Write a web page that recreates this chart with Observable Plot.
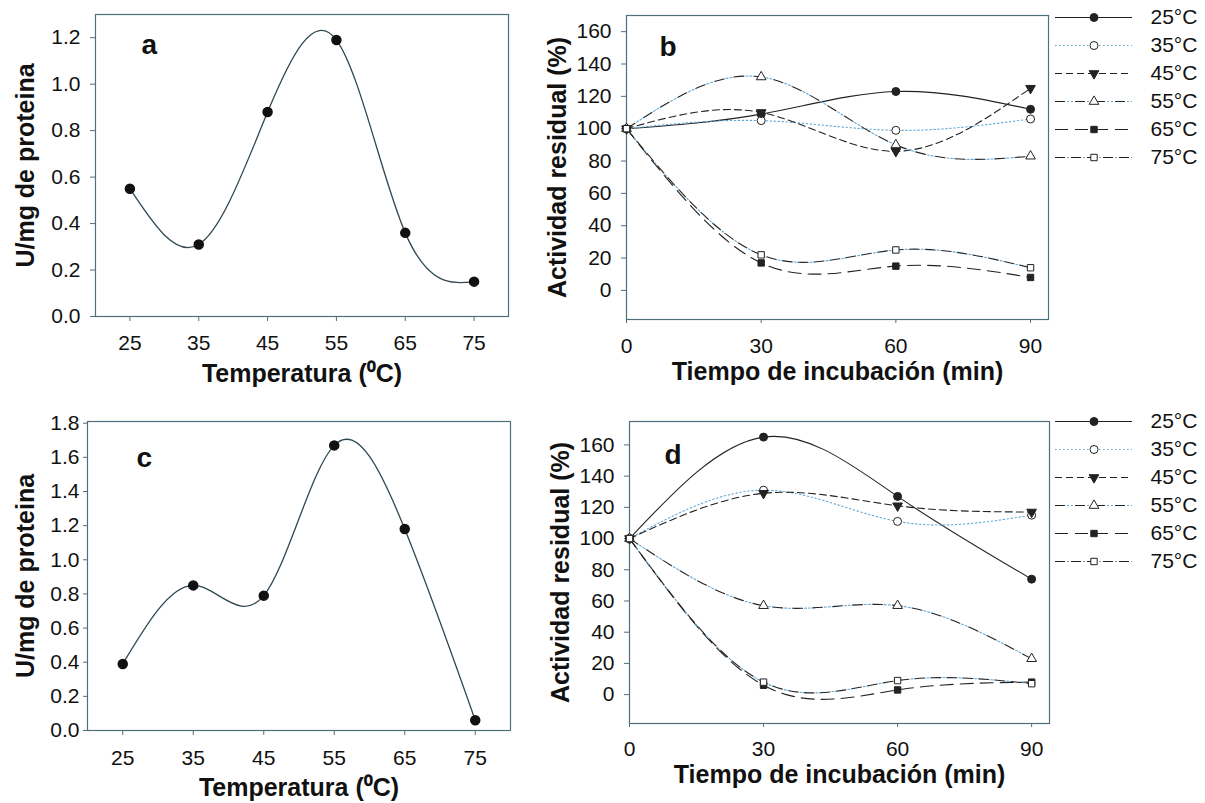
<!DOCTYPE html>
<html>
<head>
<meta charset="utf-8">
<script src="https://cdn.jsdelivr.net/npm/d3@7"></script>
<script src="https://cdn.jsdelivr.net/npm/@observablehq/plot@0.6"></script>
<style>
  html, body { margin: 0; padding: 0; background: #fff; }
  #root { position: relative; width: 1205px; height: 803px; background: #fff; overflow: hidden; }
  .panel { position: absolute; }
</style>
</head>
<body>
<div id="root"></div>
<script>
// ---------- DATA ----------
const temperatures = [25, 35, 45, 55, 65, 75];
const activityA = [0.55, 0.31, 0.88, 1.19, 0.36, 0.15];
const activityC = [0.39, 0.85, 0.79, 1.67, 1.18, 0.06];
const tempTicksY_A = [0, 0.2, 0.4, 0.6, 0.8, 1.0, 1.2];
const tempTicksY_C = [0, 0.2, 0.4, 0.6, 0.8, 1.0, 1.2, 1.4, 1.6, 1.8];

const times = [0, 30, 60, 90];
const seriesLabels = ["25°C", "35°C", "45°C", "55°C", "65°C", "75°C"];
const residualTicks = [0, 20, 40, 60, 80, 100, 120, 140, 160];

// Panel b residual activity (%)
const b25 = [100, 109, 123, 112];
const b35 = [100, 105, 99, 106];
const b45 = [100, 110, 86, 125];
const b55 = [100, 132, 90, 83];
const b65 = [100, 17, 15, 8];
const b75 = [100, 22, 25, 14];

// Panel d residual activity (%)
const d25 = [100, 165, 127, 74];
const d35 = [100, 131, 111, 115];
const d45 = [100, 129, 121, 117];
const d55 = [100, 57, 57, 23];
const d65 = [100, 6, 3, 8];
const d75 = [100, 8, 9, 7];

// ---------- STYLES ----------
const FRAME = "#4f6f7c";
const DARK = "#222";
const BLUE = "#63a9d6";
const FONT = "'Liberation Sans', Arial, Helvetica, sans-serif";
const TICK_FS = 21;
const TITLE_FS = 25;

const seriesStyles = [
  {lines: [{stroke: DARK}], symbol: "circle", fill: DARK, r: 4},
  {lines: [{stroke: BLUE, dash: "1.5,2.5"}], symbol: "circle", fill: "white", r: 4},
  {lines: [{stroke: DARK, dash: "7,4"}], symbol: "triangle", rotate: 180, fill: DARK, r: 3.6},
  {lines: [{stroke: DARK, dash: "10,10"}, {stroke: BLUE, dash: "0,12,2,2,2,2"}], symbol: "triangle", fill: "white", r: 3.6},
  {lines: [{stroke: DARK, dash: "13,7"}], symbol: "square", fill: DARK, r: 3.6},
  {lines: [{stroke: DARK, dash: "10,6"}, {stroke: BLUE, dash: "0,12,2,2"}], symbol: "square", fill: "white", r: 3.6}
];

const root = document.getElementById("root");
function place(node, left, top) {
  const wrap = document.createElement("div");
  wrap.className = "panel";
  wrap.style.left = left + "px";
  wrap.style.top = top + "px";
  wrap.appendChild(node);
  root.appendChild(wrap);
}

const baseStyle = {fontFamily: FONT, fontSize: TICK_FS + "px", color: "#111", background: "transparent", overflow: "visible"};

function titleMarks(letter, letterDx, letterDy, xTitle, xDy, yTitle, yDx) {
  return [
    Plot.text([letter], {text: d => d, frameAnchor: "top-left", dx: letterDx, dy: letterDy, textAnchor: "start", lineAnchor: "middle", fontSize: 28, fontWeight: "bold", fill: "#111"}),
    Plot.text([xTitle], {text: d => d, frameAnchor: "bottom", dy: xDy, textAnchor: "middle", lineAnchor: "middle", fontSize: TITLE_FS, fontWeight: "bold", fill: "#111"}),
    Plot.text([yTitle], {text: d => d, frameAnchor: "left", dx: yDx, rotate: -90, textAnchor: "middle", lineAnchor: "middle", fontSize: TITLE_FS, fontWeight: "bold", fill: "#111"})
  ];
}

// ---------- Temperature panels (a, c) ----------
function tempPanel(values, cfg) {
  const data = temperatures.map((t, i) => ({t, v: values[i]}));
  return Plot.plot({
    width: cfg.width, height: cfg.height,
    marginLeft: cfg.ml, marginRight: cfg.mr, marginTop: cfg.mt, marginBottom: cfg.mb,
    style: baseStyle,
    x: {domain: [20, 80]},
    y: {domain: cfg.yDomain},
    marks: [
      Plot.frame({stroke: FRAME, strokeWidth: 1.2}),
      Plot.axisX({ticks: temperatures, tickSize: 5, tickPadding: cfg.xPad, tickFormat: d => String(d), stroke: FRAME, fill: "#111", fontSize: TICK_FS, label: null}),
      Plot.axisY({ticks: cfg.yTicks, tickSize: cfg.yTick, tickPadding: cfg.yPad, tickFormat: d3.format(".1f"), stroke: FRAME, fill: "#111", fontSize: TICK_FS, label: null}),
      Plot.line(data, {x: "t", y: "v", curve: "natural", stroke: "#2e4854", strokeWidth: 1.3}),
      Plot.dot(data, {x: "t", y: "v", r: 4.5, fill: "#111", stroke: "#111"}),
      ...titleMarks(cfg.letter, cfg.letterDx, cfg.letterDy, "Temperatura (⁰C)", cfg.xDy, "U/mg de proteina", cfg.yDx)
    ]
  });
}

place(tempPanel(activityA, {
  width: 530, height: 395, ml: 95, mr: 22, mt: 14, mb: 79,
  yDomain: [0, 1.3], yTicks: tempTicksY_A, yTick: 5, yPad: 10, xPad: 14,
  letter: "a", letterDx: 46, letterDy: 31, xDy: 57, yDx: -70
}), 0, 0);

place(tempPanel(activityC, {
  width: 530, height: 403, ml: 87, mr: 20, mt: 21, mb: 73,
  yDomain: [0, 1.81], yTicks: tempTicksY_C, yTick: 4, yPad: 4, xPad: 15,
  letter: "c", letterDx: 49, letterDy: 37, xDy: 57, yDx: -62
}), 0, 400);

// ---------- Residual activity panels (b, d) ----------
function residualPanel(seriesValues, cfg) {
  const marks = [
    Plot.frame({stroke: FRAME, strokeWidth: 1.2}),
    Plot.axisX({ticks: times, tickSize: 4, tickPadding: cfg.xPad, tickFormat: d => String(d), stroke: FRAME, fill: "#111", fontSize: TICK_FS, label: null}),
    Plot.axisY({ticks: residualTicks, tickSize: 5, tickPadding: 10, tickFormat: d => String(d), stroke: FRAME, fill: "#111", fontSize: TICK_FS, label: null})
  ];
  seriesValues.forEach((vals, k) => {
    const data = times.map((t, i) => ({t, v: vals[i]}));
    const st = seriesStyles[k];
    st.lines.forEach(ln => {
      marks.push(Plot.line(data, {x: "t", y: "v", curve: "natural", stroke: ln.stroke, strokeWidth: 1.1, strokeDasharray: ln.dash}));
    });
  });
  seriesValues.forEach((vals, k) => {
    const data = times.map((t, i) => ({t, v: vals[i]}));
    const st = seriesStyles[k];
    marks.push(Plot.dot(data, {x: "t", y: "v", symbol: st.symbol, r: st.r, fill: st.fill, stroke: DARK, strokeWidth: 1, rotate: st.rotate || 0}));
  });
  marks.push(...titleMarks(cfg.letter, cfg.letterDx, cfg.letterDy, "Tiempo de incubación (min)", cfg.xDy, "Actividad residual (%)", cfg.yDx));
  return Plot.plot({
    width: cfg.width, height: cfg.height,
    marginLeft: cfg.ml, marginRight: cfg.mr, marginTop: cfg.mt, marginBottom: cfg.mb,
    style: baseStyle,
    x: {domain: [0, 94]},
    y: {domain: cfg.yDomain},
    marks
  });
}

place(residualPanel([b25, b35, b45, b55, b65, b75], {
  width: 520, height: 395, ml: 96, mr: 2, mt: 15, mb: 76,
  yDomain: [-18, 170], xPad: 15,
  letter: "b", letterDx: 33, letterDy: 32, xDy: 52, yDx: -69
}), 530, 0);

place(residualPanel([d25, d35, d45, d55, d65, d75], {
  width: 522, height: 403, ml: 99, mr: 3, mt: 21, mb: 80,
  yDomain: [-18.5, 175], xPad: 14,
  letter: "d", letterDx: 35, letterDy: 34, xDy: 51, yDx: -69
}), 530, 400);

// ---------- Legends ----------
function legend(cfg) {
  const marks = [];
  seriesLabels.forEach((lab, k) => {
    const st = seriesStyles[k];
    st.lines.forEach(ln => {
      marks.push(Plot.ruleY([lab], {y: d => d, x1: 0, x2: 1, stroke: ln.stroke, strokeWidth: 1.1, strokeDasharray: ln.dash}));
    });
    marks.push(Plot.dot([lab], {y: d => d, x: 0.5, symbol: st.symbol, r: st.r, fill: st.fill, stroke: DARK, strokeWidth: 1, rotate: st.rotate || 0}));
    marks.push(Plot.text([lab], {y: d => d, x: 1, text: d => d, dx: 18, textAnchor: "start", fontSize: 21, fill: "#111"}));
  });
  return Plot.plot({
    width: 165, height: 180,
    marginLeft: 15, marginRight: 73, marginTop: cfg.mt, marginBottom: 180 - cfg.mt - 140,
    style: baseStyle,
    x: {domain: [0, 1], axis: null},
    y: {type: "point", domain: seriesLabels, padding: 0, axis: null},
    marks
  });
}
place(legend({mt: 17}), 1040, 0);
place(legend({mt: 21}), 1040, 400);
</script>
</body>
</html>
